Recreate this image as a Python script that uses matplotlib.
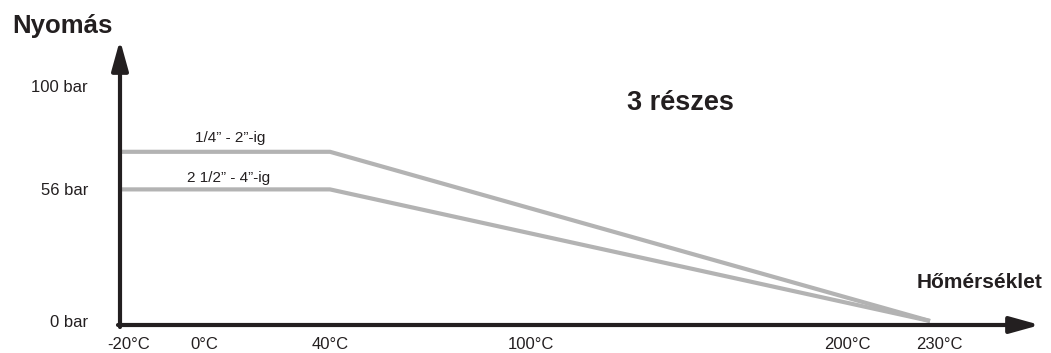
import numpy as np
import matplotlib
matplotlib.use("Agg")
import matplotlib.pyplot as plt
from matplotlib.transforms import ScaledTranslation

plt.rcParams['font.family'] = ['Liberation Sans', 'DejaVu Sans']

# data
temps = [-20, 40, 230]            # °C
small_sizes = [72, 72, 0]         # bar, 1/4" - 2"
large_sizes = [56, 56, 0]         # bar, 2 1/2" - 4"
x_ticks = [-20, 0, 40, 100, 200, 230]
x_labels = ["-20°C", "0°C", "40°C", "100°C", "200°C", "230°C"]
y_ticks = [0, 56, 100]
y_labels = ["0 bar", "56 bar", "100 bar"]

# the temperature axis of the drawing is not evenly spaced
x_pos = [120, 204, 330, 531, 847, 930]
def fwd(t):
    return np.interp(t, x_ticks, x_pos)
def inv(p):
    return np.interp(p, x_pos, x_ticks)

dark = "#231f20"
grey = "#b3b3b3"

W, H = 1051, 353
fig = plt.figure(figsize=(W / 100, H / 100), dpi=100)
ax = fig.add_axes([120 / W, (H - 321) / H, 810 / W, 235 / H])
ax.set_xscale("function", functions=(fwd, inv))
ax.set_xlim(-20, 230)
ax.set_ylim(0, 100)

ax.plot(temps, small_sizes, color=grey, lw=3, solid_capstyle="butt", clip_on=False)
ax.plot(temps, large_sizes, color=grey, lw=3, solid_capstyle="butt", clip_on=False)

# labels sit just above the flat part of each line
ax.text(inv(230), small_sizes[0] + 4.2, "1/4” - 2”-ig", fontsize=11, color=dark,
        ha="center", va="baseline")
ax.text(inv(229), large_sizes[0] + 3.1, "2 1/2” - 4”-ig", fontsize=11, color=dark,
        ha="center", va="baseline")

for s in ax.spines.values():
    s.set_visible(False)
ax.set_xticks(x_ticks, x_labels, fontsize=12, color=dark)
ax.set_yticks(y_ticks, y_labels, fontsize=12, color=dark)
ax.tick_params(axis="x", length=0, pad=11.5)
ax.tick_params(axis="y", length=0, pad=23)
tl = ax.get_xticklabels()
for i in (0, 5):
    tl[i].set_transform(tl[i].get_transform() + ScaledTranslation(0.09, 0, fig.dpi_scale_trans))

# axis arrows
arrow = dict(arrowstyle="-|>,head_length=1.8,head_width=0.5", lw=3, color=dark,
             mutation_scale=10, shrinkA=0, shrinkB=0)
y0 = -4 / 235
ax.annotate("", xy=((1040 - 120) / 810, y0), xytext=(-2 / 810, y0),
            xycoords="axes fraction", arrowprops=arrow, annotation_clip=False)
ax.annotate("", xy=(0, (321 - 40) / 235), xytext=(0, y0 - 2 / 235),
            xycoords="axes fraction", arrowprops=arrow, annotation_clip=False)

fig.text(12 / W, 1 - 33 / H, "Nyomás", fontsize=18.5, weight="bold", color=dark,
         ha="left", va="baseline")
fig.text(917 / W, 1 - 288 / H, "Hőmérséklet", fontsize=15, weight="bold", color=dark,
         ha="left", va="baseline")
fig.text(627 / W, 1 - 110 / H, "3 részes", fontsize=19.5, weight="bold", color=dark,
         ha="left", va="baseline")

fig.savefig("out.png", dpi=100)
